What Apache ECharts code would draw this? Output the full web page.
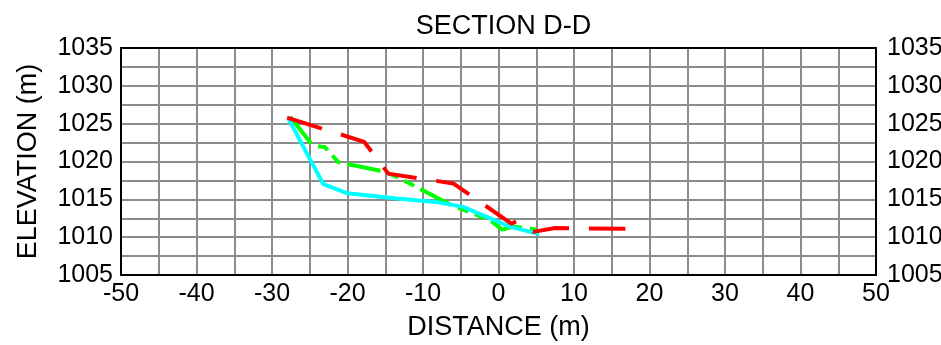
<!DOCTYPE html>
<html>
<head>
<meta charset="utf-8">
<script src="https://cdn.jsdelivr.net/npm/echarts@6/dist/echarts.min.js"></script>
<style>
  html, body { margin: 0; padding: 0; background: #fff; }
  #chart { width: 941px; height: 345px; }
</style>
</head>
<body>
<div id="chart"></div>
<script>
// Section D-D profiles: distance (m) vs elevation (m)
const greenDistance = [-27.6, -24.6, -23.0, -21.2, -15.3, -13.5, -6.4, -1.2, 0.5, 2.0, 5.0];
const greenElevation = [1025.9, 1022.1, 1021.9, 1019.9, 1018.7, 1018.0, 1014.3, 1012.3, 1011.0, 1011.4, 1011.0];

const cyanDistance = [-27.8, -23.2, -20.0, -13.5, -8.0, -4.7, 1.5, 5.4];
const cyanElevation = [1025.6, 1017.0, 1015.8, 1015.1, 1014.6, 1014.0, 1011.4, 1010.4];

const redDistance = [-28.0, -17.8, -14.6, -6.0, 1.7, 2.4, 4.6, 7.5, 17.0];
const redElevation = [1025.8, 1022.6, 1018.4, 1017.1, 1011.8, 1012.1, 1010.7, 1011.2, 1011.1];

const xTicks = [-50, -40, -30, -20, -10, 0, 10, 20, 30, 40, 50];
const yTicks = [1005, 1010, 1015, 1020, 1025, 1030, 1035];

const zip = (xs, ys) => xs.map((x, i) => [x, ys[i]]);

const FONT = 'Liberation Sans, Arial, sans-serif';
const gridLine = { color: '#8c8c8c', width: 2 };
const plain = v => String(v);

const GRID = { left: 121, right: 65, top: 48, bottom: 70 };
const plotCenterX = GRID.left + (941 - GRID.left - GRID.right) / 2;

const chart = echarts.init(document.getElementById('chart'), null, { renderer: 'canvas' });

const yAxisBase = {
  type: 'value',
  min: yTicks[0],
  max: yTicks[yTicks.length - 1],
  interval: 5,
  axisLine: { show: true, onZero: false, lineStyle: { color: '#000', width: 2 } },
  axisTick: { show: false },
  axisLabel: { color: '#000', fontSize: 25, fontFamily: FONT, margin: 8, formatter: plain }
};

chart.setOption({
  animation: false,
  backgroundColor: '#fff',
  title: {
    text: 'SECTION D-D',
    left: plotCenterX,
    textAlign: 'center',
    top: 8,
    textStyle: { color: '#000', fontSize: 27, fontWeight: 'normal', fontFamily: FONT }
  },
  grid: Object.assign({ show: false, containLabel: false, outerBoundsMode: 'none' }, GRID),
  xAxis: [{
    type: 'value',
    min: xTicks[0],
    max: xTicks[xTicks.length - 1],
    interval: 10,
    name: 'DISTANCE (m)',
    nameLocation: 'middle',
    nameGap: 39,
    nameTextStyle: { color: '#000', fontSize: 27, fontFamily: FONT },
    axisLine: { show: true, onZero: false, lineStyle: { color: '#000', width: 2 } },
    axisTick: { show: false },
    axisLabel: { color: '#000', fontSize: 25, fontFamily: FONT, margin: 7, formatter: plain },
    splitLine: { show: true, lineStyle: gridLine },
    minorTick: { show: false, splitNumber: 2 },
    minorSplitLine: { show: true, lineStyle: gridLine }
  }, {
    type: 'value',
    position: 'top',
    min: xTicks[0],
    max: xTicks[xTicks.length - 1],
    interval: 10,
    axisLine: { show: true, onZero: false, lineStyle: { color: '#000', width: 2 } },
    axisTick: { show: false },
    axisLabel: { show: false },
    splitLine: { show: false }
  }],
  yAxis: [Object.assign({}, yAxisBase, {
    position: 'left',
    name: 'ELEVATION (m)',
    nameLocation: 'middle',
    nameGap: 79,
    nameTextStyle: { color: '#000', fontSize: 27, fontFamily: FONT },
    splitLine: { show: true, lineStyle: gridLine },
    minorTick: { show: false, splitNumber: 2 },
    minorSplitLine: { show: true, lineStyle: gridLine }
  }), Object.assign({}, yAxisBase, {
    position: 'right',
    splitLine: { show: false },
    axisLabel: Object.assign({}, yAxisBase.axisLabel, { margin: 11 })
  })],
  series: [{
    type: 'line',
    name: 'green',
    data: zip(greenDistance, greenElevation),
    symbol: 'none',
    lineStyle: { color: '#00ff00', width: 4, type: [34, 8, 11, 7, 11, 7], cap: 'butt' },
    z: 3
  }, {
    type: 'line',
    name: 'cyan',
    data: zip(cyanDistance, cyanElevation),
    symbol: 'none',
    lineStyle: { color: '#00ffff', width: 4, type: 'solid' },
    z: 4
  }, {
    type: 'line',
    name: 'red',
    data: zip(redDistance, redElevation),
    symbol: 'none',
    lineStyle: { color: '#ff0000', width: 4, type: [36.5, 19.9], cap: 'butt' },
    z: 5
  }]
});
</script>
</body>
</html>
